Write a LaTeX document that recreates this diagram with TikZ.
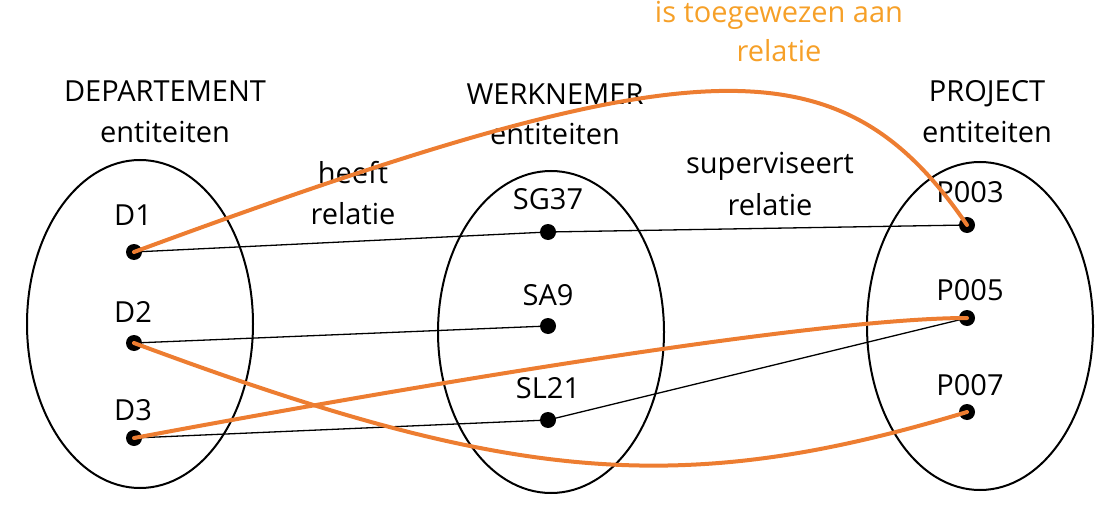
\documentclass[tikz,border=0pt]{standalone}
\usepackage{fontspec}
\setmainfont{Open Sans}
\usetikzlibrary{shapes.geometric}
\definecolor{oline}{RGB}{237,125,49}
\definecolor{otext}{RGB}{246,160,40}
\tikzset{
  setell/.style={draw=black, line width=2pt, ellipse, inner sep=0pt},
  dot/.style={circle, fill=black, inner sep=0pt, minimum size=16pt},
  lbl/.style={anchor=base, inner sep=0pt, font=\fontsize{29}{34}\selectfont},
  olbl/.style={lbl, text=otext},
  thin link/.style={draw=black, line width=1.3pt},
  orange link/.style={draw=oline, line width=4pt, line cap=round}
}
\begin{document}
\begin{tikzpicture}[x=1pt,y=-1pt]
\useasboundingbox (0,0) rectangle (1102,513);
% sets
\node[setell, minimum width=226pt, minimum height=328pt] (E1) at (140,324) {};
\node[setell, minimum width=226pt, minimum height=322pt] (E2) at (551,332) {};
\node[setell, minimum width=226pt, minimum height=328pt] (E3) at (980,326) {};
% titles
\node[lbl] (t1a) at (165,102) {DEPARTEMENT};
\node[lbl] (t1b) at (165,143) {entiteiten};
\node[lbl] (t2a) at (555,105) {WERKNEMER};
\node[lbl] (t2b) at (555,145) {entiteiten};
\node[lbl] (t3a) at (987,102) {PROJECT};
\node[lbl] (t3b) at (987,143) {entiteiten};
\node[lbl] (r1a) at (353,184) {heeft};
\node[lbl] (r1b) at (353,224) {relatie};
\node[lbl] (r2a) at (770,174) {superviseert};
\node[lbl] (r2b) at (770,215) {relatie};
\node[olbl] (r3a) at (779,23) {is toegewezen aan};
\node[olbl] (r3b) at (779,62) {relatie};
% element labels
\node[lbl] (lD1) at (133,225) {D1};
\node[lbl] (lD2) at (133,322) {D2};
\node[lbl] (lD3) at (133,420) {D3};
\node[lbl] (lSG) at (548,209) {SG37};
\node[lbl] (lSA) at (548,305) {SA9};
\node[lbl] (lSL) at (548,398) {SL21};
\node[lbl] (lP3) at (970,203) {P003};
\node[lbl] (lP5) at (970,300) {P005};
\node[lbl] (lP7) at (970,395) {P007};
% dots
\node[dot] (D1) at (134,252) {};
\node[dot] (D2) at (134,343) {};
\node[dot] (D3) at (134,438) {};
\node[dot] (SG) at (548,232) {};
\node[dot] (SA) at (548,326) {};
\node[dot] (SL) at (548,420) {};
\node[dot] (P3) at (967,225) {};
\node[dot] (P5) at (967,318) {};
\node[dot] (P7) at (967,412) {};
% thin links
\draw[thin link] (D1.center) -- (SG.center) -- (P3.center);
\draw[thin link] (D2.center) -- (SA.center);
\draw[thin link] (D3.center) -- (SL.center) -- (P5.center);
% orange links
\draw[orange link] (D1.center) .. controls (698,44) and (840,40) .. (P3.center);
\draw[orange link] (D2.center) .. controls (510,483) and (679,499) .. (P7.center);
\draw[orange link] (D3.center) .. controls (428,383) and (820,318) .. (P5.center);
\end{tikzpicture}
\end{document}
